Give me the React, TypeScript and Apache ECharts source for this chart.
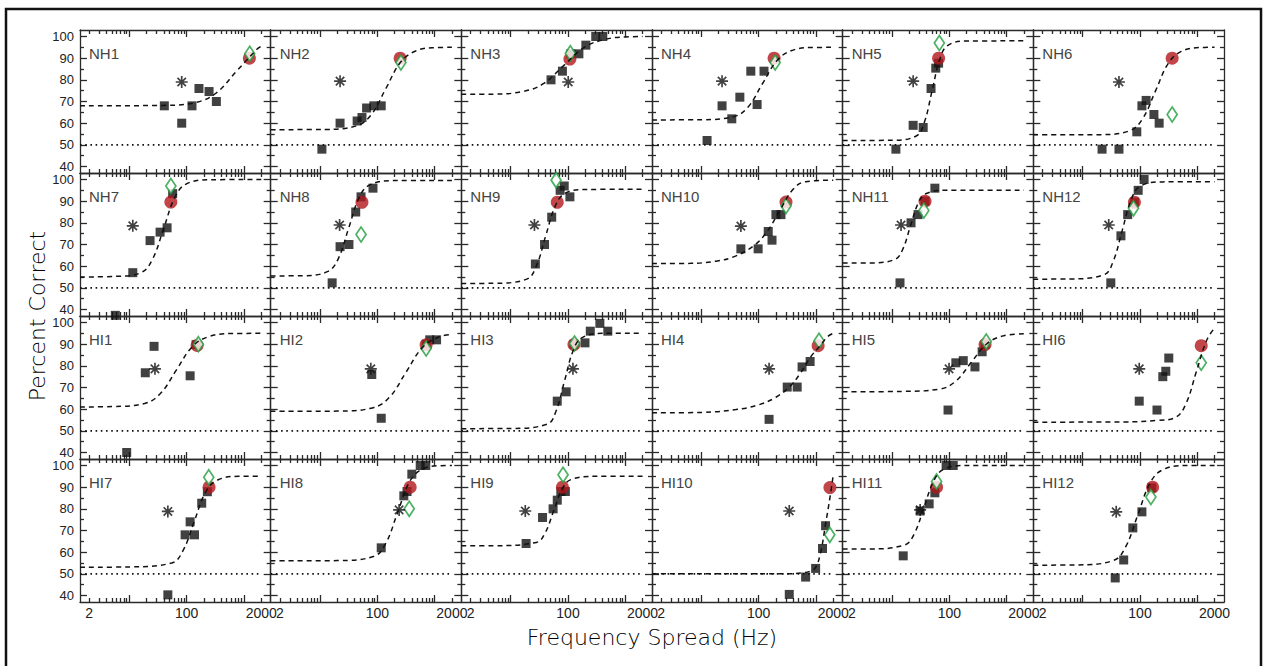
import React, { useEffect, useRef } from "react";
import * as echarts from "echarts";

// ---------------- data (Hz, percent correct) ----------------
const PANEL_NAMES = [
  "NH1", "NH2", "NH3", "NH4", "NH5", "NH6",
  "NH7", "NH8", "NH9", "NH10", "NH11", "NH12",
  "HI1", "HI2", "HI3", "HI4", "HI5", "HI6",
  "HI7", "HI8", "HI9", "HI10", "HI11", "HI12",
];

const X_MIN_HZ = 1.38;
const X_MAX_HZ = 2920;
const Y_MIN = 37;
const Y_MAX = 103;
const Y_MAJOR = [40, 50, 60, 70, 80, 90, 100];
const Y_MINOR = [45, 55, 65, 75, 85, 95];
const X_MAJOR_HZ = [10, 100, 1000];
const X_MINOR_HZ = [2, 3, 4, 5, 6, 7, 8, 9, 20, 30, 40, 50, 60, 70, 80, 90, 200, 300, 400, 500, 600, 700, 800, 900, 2000];
const X_LABEL_HZ = [2, 100, 2000];
const CHANCE = 50;
const CHANCE_END_HZ = 2000;

type P = [number, number];

const SQUARES: P[][] = [
  [[40.8, 68], [82, 60], [124, 68], [164, 76], [246, 74.6], [330, 70]],
  [[10.8, 48], [22.4, 60], [44.5, 61], [54, 62.6], [65, 67], [87, 68], [117, 68]],
  [[50.6, 80], [80, 84], [112, 92], [155, 92], [205, 96], [305, 100], [405, 100]],
  [[12.6, 52], [23, 68], [34, 62], [47, 72], [73, 84], [94, 68.6], [124, 84]],
  [[11.7, 48], [23.4, 59], [35, 58], [48, 76], [58, 85.4], [65, 87.7]],
  [[21.8, 48], [43, 48], [88, 56], [108, 68], [128, 70.5], [175, 64], [216, 60]],
  [[5.7, 37.3], [11.5, 57], [23, 71.8], [34.4, 75.7], [45.6, 77.7], [57, 93.5]],
  [[16.3, 52.3], [22.4, 69], [32, 70], [42, 85], [52, 92], [84, 96]],
  [[27, 61], [39, 70], [52, 82.6], [73, 95], [86, 97], [108, 92]],
  [[49, 68], [98, 68], [147, 76], [171, 72], [200, 83.8], [245, 83.8]],
  [[13.8, 52.3], [21.5, 80], [28.5, 83.8], [37.7, 90], [56, 96]],
  [[31, 52.3], [46.5, 74], [61, 83.8], [80, 89.5], [93, 95], [118, 100]],
  [[9, 40], [19, 76.8], [27, 89], [115, 75.4], [146, 89.8]],
  [[117, 55.8], [80, 76], [710, 90], [820, 92], [1080, 92]],
  [[65, 63.7], [93, 68], [127, 90], [198, 90.6], [245, 96], [360, 99.6], [495, 96]],
  [[152, 55.3], [315, 70.2], [470, 70.2], [572, 79.5], [790, 82]],
  [[95, 59.6], [130, 81.4], [175, 82.4], [280, 79.5], [374, 86.5], [420, 89.8]],
  [[97, 63.7], [198, 59.6], [250, 75], [282, 77.5], [318, 83.6]],
  [[47, 40.3], [94, 68], [115, 74], [137, 68], [183, 82.6], [230, 87.9]],
  [[117, 62], [290, 86], [330, 88], [400, 96], [560, 100], [700, 100]],
  [[18.6, 64], [36, 76], [55, 80], [65, 84], [75, 88], [90, 88]],
  [[342, 40.5], [660, 48.5], [986, 52.5], [1300, 61.7], [1470, 72.2]],
  [[15.7, 58.3], [31, 79], [44.5, 82.3], [56, 87.4], [88, 100], [117, 100]],
  [[37, 48.1], [52, 56.4], [75, 71.2], [108, 78.6], [160, 89.7]],
];

const ASTERISKS: P[][] = [
  [[82, 79]], [[22.4, 79.4]], [[101, 79]], [[23, 79.4]], [[23.4, 79.4]], [[43, 79]],
  [[11.5, 78.6]], [[22, 79]], [[26, 79]], [[49, 78.5]], [[14.4, 79]], [[28.5, 79]],
  [[28, 78.6]], [[77, 78.6]], [[122, 78.6]], [[152, 78.6]], [[99, 78.6]], [[97, 78.6]],
  [[47, 78.8]], [[240, 79.5]], [[18, 79]], [[342, 79]], [[31, 79.5]], [[38.5, 78.6]],
];

const CIRCLES: P[][] = [
  [[1242, 90]], [[250, 90]], [[108, 89.6]], [[186, 90]], [[65, 90]], [[364, 90]],
  [[53, 89.6]], [[54, 89.5]], [[65, 89.5]], [[300, 89.6]], [[37.7, 90]], [[80, 89.5]],
  [[152, 89.4]], [[710, 89.7]], [[127, 89.8]], [[1090, 89.3]], [[420, 89.8]], [[1170, 89.3]],
  [[246, 90]], [[374, 90]], [[80, 90]], [[1750, 89.8]], [[60, 90]], [[166, 90]],
];

const DIAMONDS: P[][] = [
  [[1260, 92]], [[258, 88]], [[110, 92.3]], [[194, 88]], [[67, 97]], [[364, 64]],
  [[53, 97]], [[52, 74.6]], [[62, 99.7]], [[300, 87.8]], [[36, 85.7]], [[77, 86.7]],
  [[160, 90]], [[710, 88]], [[130, 90.3]], [[1130, 91.6]], [[440, 91.2]], [[1170, 81.4]],
  [[243, 94.6]], [[360, 80]], [[82, 95.7]], [[1740, 68]], [[60, 92.6]], [[155, 85.5]],
];

// fitted psychometric curves
const CURVES: P[][] = [
  [[1.38, 68], [40, 68.2], [141, 69.5], [324, 73.8], [741, 84], [1698, 94.2], [2000, 95.5]],
  [[1.38, 57], [12, 57.1], [43.7, 58.8], [78.5, 63.9], [141, 76], [254, 88.1], [457, 93.2], [900, 94.8], [2000, 95]],
  [[1.38, 73.3], [5, 73.4], [16.2, 74.6], [37.2, 78.2], [85, 86.7], [195, 95.1], [447, 98.7], [1000, 99.8], [2000, 100]],
  [[1.38, 61.5], [10, 61.6], [37.6, 63.1], [66, 67.6], [117, 78.3], [209, 88.9], [367, 93.4], [800, 94.9], [2000, 95]],
  [[1.38, 52], [10, 52.1], [26.9, 54.2], [36.7, 60.4], [50.1, 75], [68.4, 89.6], [93.3, 95.8], [200, 97.9], [2000, 98]],
  [[1.38, 54.6], [20, 54.7], [66, 56.5], [111, 62], [186, 74.8], [313, 87.7], [525, 93.1], [1100, 94.9], [2000, 95]],
  [[1.38, 55], [6, 55.3], [16.2, 57.1], [25.4, 63.2], [39.8, 77.5], [62.4, 91.8], [97.7, 97.9], [250, 99.9], [2000, 100]],
  [[1.38, 55.5], [5, 55.6], [13.8, 57.6], [20.9, 63.5], [31.6, 77.5], [47.9, 91.5], [72.4, 97.4], [200, 99.5], [2000, 99.5]],
  [[1.38, 52], [5, 52.1], [19.1, 54], [27.9, 59.9], [40.7, 73.8], [59.6, 87.6], [87.1, 93.5], [200, 95.4], [2000, 95.5]],
  [[1.38, 61.2], [6.4, 61.3], [18, 62.3], [36.5, 64.3], [81, 69.3], [138, 75.7], [237, 86], [399, 95.5], [660, 99], [2000, 99.7]],
  [[1.38, 61.5], [4, 61.5], [11.2, 63.1], [15.3, 67.6], [20.9, 78.3], [28.5, 88.9], [38.9, 93.4], [90, 95], [2000, 95]],
  [[1.38, 54], [6, 54.1], [23.7, 56.1], [34.1, 62.2], [49, 76.5], [70.4, 90.8], [101, 96.9], [250, 98.9], [2000, 99]],
  [[1.38, 61], [5, 61.2], [18.4, 62.6], [34.9, 67.2], [66, 78], [125, 88.8], [237, 93.4], [600, 94.9], [2000, 95]],
  [[1.38, 59], [20, 59.1], [85, 60.7], [164, 65.6], [316, 77], [610, 88.4], [1175, 93.3], [2000, 94.5]],
  [[1.38, 51], [10, 51.1], [43.7, 53.1], [61.7, 59], [87.1, 73], [123, 87], [174, 92.9], [400, 95], [2000, 95]],
  [[1.38, 58.3], [10, 58.5], [40, 59.8], [100, 62], [200, 65.5], [350, 70.5], [526, 76.3], [800, 84], [1180, 89.3], [1600, 93.5], [2000, 95]],
  [[1.38, 68], [15, 68.2], [69, 69.3], [129, 72.9], [240, 81.5], [447, 90.1], [832, 93.7], [2000, 94.8]],
  [[1.38, 54], [50, 54.1], [200, 54.8], [417, 56.2], [631, 62.4], [955, 77], [1445, 91.6], [2000, 97.5]],
  [[1.38, 53], [10, 53.2], [55, 55], [86, 60.6], [135, 74], [211, 87.4], [331, 93], [800, 95], [2000, 95]],
  [[1.38, 56], [20, 56.1], [88, 58.1], [140, 64], [224, 78], [357, 92], [569, 97.9], [1200, 99.9], [2000, 100]],
  [[1.38, 63], [5, 63], [28.2, 64.5], [39.8, 68.8], [56.2, 79], [79.4, 89.2], [112, 93.5], [300, 95], [2000, 95]],
  [[1.38, 50], [300, 50], [600, 50.5], [800, 51.3], [986, 53], [1200, 59.6], [1470, 73], [1765, 85.7], [2000, 95.7]],
  [[1.38, 61.5], [4, 61.5], [16.6, 63.3], [24.5, 68.5], [36.3, 80.8], [53.7, 93], [79.4, 98.2], [200, 100], [2000, 100]],
  [[1.38, 54], [8, 54.1], [34.7, 56.2], [56.2, 62.4], [91.2, 77], [148, 91.6], [240, 97.8], [600, 100], [2000, 100]],
];

// ---------------- layout / style ----------------
const W = 1265;
const H = 666;
const GRID_LEFT = 80;
const GRID_TOP = 30;
const CELL_W = 1144 / 6;
const CELL_H = 143;
const COLS = 6;
const ROWS = 4;
const AXIS_COLOR = "#2a2a2a";
const TEXT_COLOR = "#222";
const RED = "#B3161D";
const GREEN = "#1f9e3c";
const ASTERISK_PATH =
  "path://M8.6 0H11.4V20H8.6Z M0 8.6H20V11.4H0Z M4 2L18 16L16 18L2 4Z M16 2L18 4L4 18L2 16Z";

const lx = (hz: number) => Math.log10(hz);
const pts = (arr: P[]) => arr.map(([h, v]) => [lx(h), v]);

function buildOption() {
  const grid: any[] = [];
  const xAxis: any[] = [];
  const yAxis: any[] = [];
  const series: any[] = [];
  const graphic: any[] = [];
  const lineStyle = { color: AXIS_COLOR, width: 1.3 };

  for (let i = 0; i < PANEL_NAMES.length; i++) {
    const r = Math.floor(i / COLS);
    const c = i % COLS;
    const left = GRID_LEFT + c * CELL_W;
    const top = GRID_TOP + r * CELL_H;
    grid.push({ left, top, width: CELL_W, height: CELL_H, show: false });

    const xBase = {
      type: "value",
      gridIndex: i,
      min: lx(X_MIN_HZ),
      max: lx(X_MAX_HZ),
      splitLine: { show: false },
    };
    for (const pos of ["bottom", "top"]) {
      xAxis.push({
        ...xBase,
        position: pos,
        axisLine: { show: true, onZero: false, lineStyle },
        axisTick: { show: true, inside: true, length: 7, customValues: X_MAJOR_HZ.map(lx), lineStyle },
        axisLabel: {
          show: pos === "bottom" && r === ROWS - 1,
          customValues: X_LABEL_HZ.map(lx),
          formatter: (v: number) => String(Math.round(Math.pow(10, v))),
          fontSize: 14,
          color: TEXT_COLOR,
          fontFamily: "Liberation Sans, Arial, sans-serif",
          margin: 4,
        },
      });
      xAxis.push({
        ...xBase,
        position: pos,
        axisLine: { show: false, onZero: false },
        axisTick: { show: true, inside: true, length: 4, customValues: X_MINOR_HZ.map(lx), lineStyle },
        axisLabel: { show: false },
      });
    }
    const yBase = {
      type: "value",
      gridIndex: i,
      min: Y_MIN,
      max: Y_MAX,
      splitLine: { show: false },
    };
    for (const pos of ["left", "right"]) {
      yAxis.push({
        ...yBase,
        position: pos,
        axisLine: { show: true, onZero: false, lineStyle },
        axisTick: { show: true, inside: true, length: 7, customValues: Y_MAJOR, lineStyle },
        axisLabel: {
          show: pos === "left" && c === 0,
          customValues: Y_MAJOR,
          fontSize: 13,
          lineHeight: 12,
          color: TEXT_COLOR,
          fontFamily: "Liberation Sans, Arial, sans-serif",
          margin: 6,
        },
      });
      yAxis.push({
        ...yBase,
        position: pos,
        axisLine: { show: false, onZero: false },
        axisTick: { show: true, inside: true, length: 4, customValues: Y_MINOR, lineStyle },
        axisLabel: { show: false },
      });
    }

    const ax = { xAxisIndex: i * 4, yAxisIndex: i * 4 };
    series.push({
      ...ax,
      type: "line",
      data: [[lx(X_MIN_HZ), CHANCE], [lx(CHANCE_END_HZ), CHANCE]],
      symbol: "none",
      lineStyle: { color: "#111", width: 1.6, type: [1.6, 3.6] },
      z: 1,
      silent: true,
    });
    series.push({
      ...ax,
      type: "scatter",
      data: pts(SQUARES[i]),
      symbol: "rect",
      symbolSize: 9,
      itemStyle: { color: "#111" },
      z: 2,
    });
    series.push({
      ...ax,
      type: "scatter",
      data: pts(CIRCLES[i]),
      symbol: "circle",
      symbolSize: 13,
      itemStyle: { color: RED },
      z: 3,
    });
    series.push({
      ...ax,
      type: "scatter",
      data: pts(DIAMONDS[i]),
      symbol: "diamond",
      symbolSize: [10, 15],
      itemStyle: { color: "#fff", borderColor: GREEN, borderWidth: 1.8 },
      z: 4,
    });
    series.push({
      ...ax,
      type: "scatter",
      data: pts(ASTERISKS[i]),
      symbol: ASTERISK_PATH,
      symbolSize: 12,
      itemStyle: { color: "#111" },
      z: 4,
    });
    series.push({
      ...ax,
      type: "line",
      data: pts(CURVES[i]),
      smooth: 0.4,
      symbol: "none",
      lineStyle: { color: "#111", width: 1.5, type: [5, 4] },
      z: 5,
      silent: true,
    });

    graphic.push({
      type: "text",
      left: left + 9,
      top: top + 16,
      style: {
        text: PANEL_NAMES[i],
        fill: "#444",
        font: '15px "Liberation Sans", Arial, sans-serif',
      },
      silent: true,
    });
  }

  graphic.push({
    type: "rect",
    shape: { x: 6, y: 9, width: 1255, height: 700 },
    style: { fill: "none", stroke: "#111", lineWidth: 2.5 },
    silent: true,
    z: -1,
  });
  graphic.push({
    type: "text",
    x: 37,
    y: 316,
    rotation: Math.PI / 2,
    style: {
      text: "Percent Correct",
      fill: "#000",
      font: '200 22px "DejaVu Sans", sans-serif',
      align: "center",
      verticalAlign: "middle",
    },
    silent: true,
  });
  graphic.push({
    type: "text",
    x: 652,
    y: 637,
    style: {
      text: "Frequency Spread (Hz)",
      fill: "#000",
      font: '200 22px "DejaVu Sans", sans-serif',
      align: "center",
      verticalAlign: "middle",
    },
    silent: true,
  });

  return {
    animation: false,
    backgroundColor: "#fff",
    grid,
    xAxis,
    yAxis,
    series,
    graphic,
  };
}

export default function App() {
  const ref = useRef<HTMLDivElement>(null);
  useEffect(() => {
    document.body.style.margin = "0";
    if (!ref.current) return;
    const chart = echarts.init(ref.current, undefined, { renderer: "svg", width: W, height: H });
    chart.setOption(buildOption());
    return () => chart.dispose();
  }, []);
  return <div ref={ref} style={{ width: W, height: H }} />;
}
